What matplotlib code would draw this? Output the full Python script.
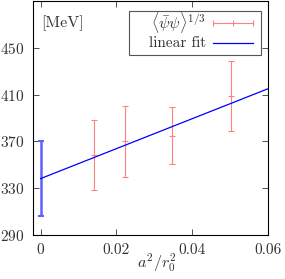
import matplotlib
matplotlib.use("Agg")
import matplotlib.pyplot as plt
from matplotlib.lines import Line2D
from matplotlib.patches import Rectangle
import numpy as np

plt.rcParams['font.family'] = 'serif'
plt.rcParams['font.serif'] = ['cmr10']
plt.rcParams['mathtext.fontset'] = 'cm'
plt.rcParams['axes.formatter.use_mathtext'] = True

a2 = [0.0142, 0.0222, 0.0348, 0.0502]
cond = [358.5, 370.0, 375.0, 408.5]
cond_err = [30.0, 30.0, 24.5, 30.0]

x0 = [0.0]
fit0 = [338.2]
fit0_err = [32.0]
fit_slope = 1280.0
fit_x = [0.0, 0.06]

xticks = [0, 0.02, 0.04, 0.06]
xticklabels = ['0', '0.02', '0.04', '0.06']
yticks = [290, 330, 370, 410, 450]

labels = [r'$\langle\bar{\psi}\psi\rangle^{1/3}$', 'linear fit']

fig = plt.figure(figsize=(2.85, 2.79), dpi=100)
ax = fig.add_axes([33/285, 44/279, 235/285, 234/279])

red = '#ff8080'
blue = '#0000ff'
ax.errorbar(a2, cond, yerr=cond_err, fmt='none', ecolor=red, elinewidth=0.8,
            capsize=2.5, capthick=0.8)
ax.plot(a2, cond, linestyle='none', marker='_', color=red, markersize=5, mew=0.8)

ax.errorbar(x0, fit0, yerr=fit0_err, fmt='none', ecolor='#6060ff', elinewidth=1.8,
            capsize=2.5, capthick=1.5)
fx = np.array(fit_x)
ax.plot(fx, fit0[0] + fit_slope * fx, color=blue, lw=0.9)

ax.set_xlim(-0.002, 0.06)
ax.set_ylim(290, 490)
ax.set_xticks(xticks)
ax.set_xticklabels(xticklabels)
ax.set_yticks(yticks)
ax.tick_params(direction='in', top=True, right=True, length=4, width=0.6,
               labelsize=11, pad=6, colors='#333333')
for s in ax.spines.values():
    s.set_linewidth(0.8)
ax.set_xlabel(r'$a^2/r_0^2$', fontsize=11.5, va='top', color='#333333')
ax.xaxis.set_label_coords(0.5255, -0.072)

ax.text(0.034, 0.906, '[MeV]', transform=ax.transAxes, fontsize=11.5,
        va='center', ha='left', color='#333333')

# legend (gnuplot style: right-aligned text, sample to the right)
ax.add_patch(Rectangle((0.4085, 0.769), 0.5615, 0.188, transform=ax.transAxes,
                       facecolor='white', edgecolor='#555555', lw=0.8, zorder=5))
rows_y = [0.906, 0.8205]
ax.text(0.735, rows_y[0], labels[0], transform=ax.transAxes, fontsize=11.5,
        ha='right', va='center', zorder=6, color='#333333')
ax.text(0.735, rows_y[1], labels[1], transform=ax.transAxes, fontsize=11,
        ha='right', va='center', zorder=6, color='#333333')
hx = np.array([0.766, 0.851, 0.936])
ax.add_line(Line2D(hx, [rows_y[0]] * 3, transform=ax.transAxes, color=red, lw=0.8,
                   marker='|', markersize=4, mew=0.8, zorder=6))
ax.add_line(Line2D(hx[[0, 2]], [rows_y[1]] * 2, transform=ax.transAxes, color=blue,
                   lw=0.9, zorder=6))

fig.savefig('out.png', dpi=100)
